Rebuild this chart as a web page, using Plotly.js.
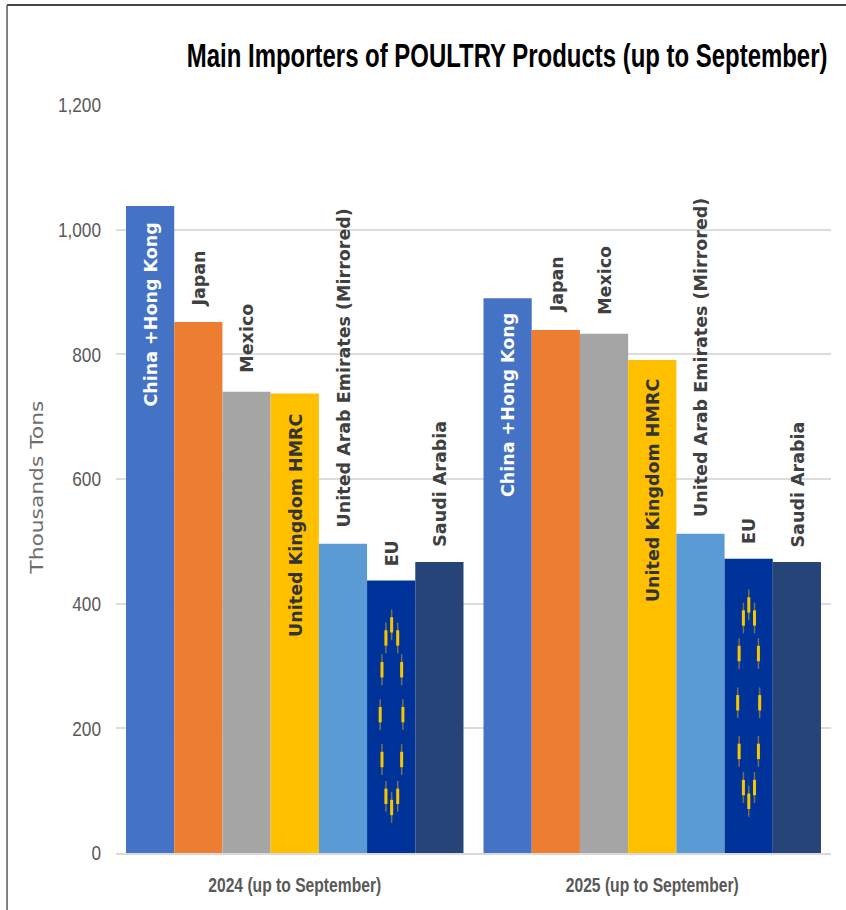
<!DOCTYPE html>
<html>
<head>
<meta charset="utf-8">
<script src="https://cdn.plot.ly/plotly-3.0.1.min.js"></script>
<style>html,body{margin:0;padding:0;background:#fff}#chart{width:846px;height:910px}</style>
</head>
<body>
<div id="chart"></div>
<script>
var periodIndex = [0, 1];
var periodLabels = ['2024 (up to September)', '2025 (up to September)'];
var countries = ['China +Hong Kong', 'Japan', 'Mexico', 'United Kingdom HMRC', 'United Arab Emirates (Mirrored)', 'EU', 'Saudi Arabia'];
var china = [1038, 890];
var japan = [852, 839];
var mexico = [740, 833];
var uk = [737, 791];
var uae = [496, 512];
var eu = [437, 472];
var saudi = [467, 467];
var barColors = ['#4472c4', '#ed7d31', '#a5a5a5', '#ffc000', '#5b9bd5', '#003399', '#264478'];
var labelColors = ['#ffffff', '#404040', '#404040', '#333333', '#404040', '#404040', '#404040'];
var labelCentres2024 = [864, 922, 826, 526, 779, 481, 593];
var labelCentres2025 = [718, 912, 918, 581, 795, 516, 591];
var euStarX = [0.271, 0.255, 0.288, 0.244, 0.299, 0.239, 0.3025, 0.244, 0.299, 0.255, 0.288, 0.271,
               1.270, 1.255, 1.286, 1.243, 1.297, 1.239, 1.3005, 1.243, 1.297, 1.255, 1.286, 1.270];
var euStarY = [366, 345, 345, 294, 294, 222, 222, 150, 150, 91, 91, 73,
               398, 377, 377, 320, 320, 241, 241, 163, 163, 105, 105, 83];

var series = [china, japan, mexico, uk, uae, eu, saudi];
var gap = 0.056;
var barW = (1 - gap) / countries.length;
var sans = '"Liberation Sans", sans-serif';

var traces = series.map(function (vals, i) {
  return {type: 'bar', name: countries[i], x: periodIndex, y: vals,
          marker: {color: barColors[i], line: {width: 0}}, hoverinfo: 'name+y'};
});
traces.push({type: 'scatter', mode: 'markers', x: euStarX, y: euStarY, showlegend: false, hoverinfo: 'skip',
  marker: {symbol: 'line-ns', size: 22, line: {color: 'rgba(190,160,40,0.6)', width: 1.5}}});
traces.push({type: 'scatter', mode: 'markers', x: euStarX, y: euStarY, showlegend: false, hoverinfo: 'skip',
  marker: {symbol: 'line-ns', size: 11, line: {color: '#f7c600', width: 3}}});

var annotations = [];
[labelCentres2024, labelCentres2025].forEach(function (centres, p) {
  centres.forEach(function (c, i) {
    annotations.push({x: periodIndex[p] + (i - 3) * barW, y: c, xref: 'x', yref: 'y', xshift: 1, text: countries[i],
      showarrow: false, textangle: -90, xanchor: 'center', yanchor: 'middle',
      font: {family: '"DejaVu Sans", sans-serif', size: 17.5, weight: 'bold', color: labelColors[i]}});
  });
});
annotations.push({xref: 'paper', yref: 'paper', x: -0.111, y: 0.488, text: 'Thousands Tons', showarrow: false,
  textangle: -90, xanchor: 'center', yanchor: 'middle',
  font: {family: '"DejaVu Sans", sans-serif', size: 18, color: '#6e6e6e'}});

var layout = {
  width: 846, height: 910,
  margin: {l: 116, r: 15, t: 105, b: 57, pad: 0},
  paper_bgcolor: '#ffffff', plot_bgcolor: '#ffffff',
  showlegend: false, barmode: 'group', bargap: gap, bargroupgap: 0,
  title: {text: 'Main Importers of POULTRY Products (up to September)', xref: 'container', yref: 'container',
          x: 0.5995, xanchor: 'center', y: 0.9395, yanchor: 'middle',
          font: {family: sans, size: 34, weight: 'bold', color: '#000000'}},
  xaxis: {type: 'linear', range: [-0.5, 1.5], tickmode: 'array', tickvals: periodIndex, ticktext: periodLabels,
          showgrid: false, zeroline: false, showline: true, linecolor: '#d9d9d9', linewidth: 2, ticks: '', ticklabelstandoff: 13,
          tickfont: {family: sans, size: 20, weight: 'bold', color: '#595959'}},
  yaxis: {range: [0, 1200], tickmode: 'array', tickvals: [0, 200, 400, 600, 800, 1000, 1200], tickformat: ',d',
          showgrid: true, gridcolor: '#dcdcdc', gridwidth: 2, zeroline: false, showline: false, ticks: '', ticklabelstandoff: 14,
          tickfont: {family: sans, size: 21, color: '#595959'}},
  annotations: annotations,
  shapes: [
    {type: 'line', xref: 'paper', yref: 'paper', x0: -0.1524, x1: 1.0210, y0: 1.1337, y1: 1.1337, line: {color: '#454545', width: 2}},
    {type: 'line', xref: 'paper', yref: 'paper', x0: -0.1524, x1: -0.1524, y0: -0.0762, y1: 1.1337, line: {color: '#5a5a5a', width: 1.5}}
  ]
};
function squeeze(sel, target) {
  document.querySelectorAll(sel).forEach(function (el) {
    var w = el.getComputedTextLength();
    el.setAttribute('textLength', typeof target === 'function' ? target(w) : target);
    el.setAttribute('lengthAdjust', 'spacingAndGlyphs');
  });
}
Plotly.newPlot('chart', traces, layout, {displayModeBar: false, responsive: false}).then(function () {
  var t = document.querySelector('.gtitle');
  var cx = parseFloat(t.getAttribute('x'));
  var s = 641 / t.getComputedTextLength();
  t.setAttribute('transform', 'translate(' + cx + ',0) scale(' + s + ',1) translate(' + (-cx) + ',0)');
  squeeze('.xtick text', 173);
  squeeze('.ytick text', function (w) { return w * 0.82; });
  document.querySelectorAll('.annotation-text').forEach(function (el) {
    if (el.textContent === 'Thousands Tons') {
      el.setAttribute('textLength', 173);
      el.setAttribute('lengthAdjust', 'spacingAndGlyphs');
    }
  });
});
</script>
</body>
</html>
